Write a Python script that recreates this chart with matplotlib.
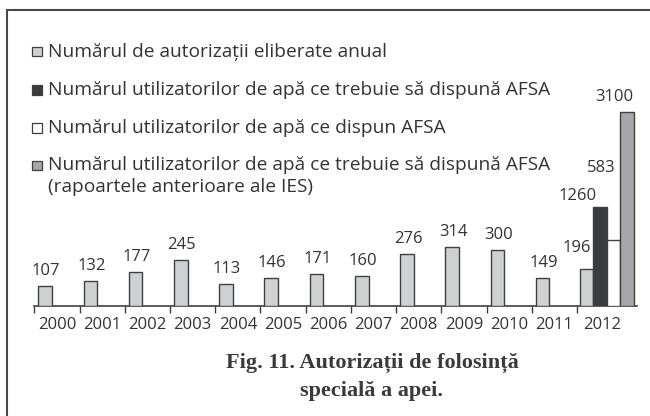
import numpy as np
import matplotlib.pyplot as plt
from matplotlib.patches import Rectangle
from matplotlib.lines import Line2D

# ------------------------------
# Data
# ------------------------------
years = ['2000', '2001', '2002', '2003', '2004', '2005', '2006',
         '2007', '2008', '2009', '2010', '2011', '2012']
permits = [107, 132, 177, 245, 113, 146, 171, 160, 276, 314, 300, 149, 196]
users_required_2012 = 1260
users_having_2012 = 583
users_required_ies_2012 = 3100

series_names = [
    'Numărul de autorizații eliberate anual',
    'Numărul utilizatorilor de apă ce trebuie să dispună AFSA',
    'Numărul utilizatorilor de apă ce dispun AFSA',
    'Numărul utilizatorilor de apă ce trebuie să dispună AFSA\n(rapoartele anterioare ale IES)',
]
title = 'Fig. 11. Autorizații de folosință\nspecială a apei.'

# the original chart is not drawn to a linear scale above ~300,
# so use a piecewise scale (value -> pixel height) to mimic it
SCALE_VALUES = [0, 320, 583, 1260, 3100, 6000]
SCALE_PX = [0, 59.7, 65.5, 98.8, 193.2, 342.0]

# ------------------------------
# Style
# ------------------------------
W, H = 650, 416
FONT = ['Open Sans', 'DejaVu Sans']
TEXT_C = '#333333'
EDGE_C = '#3f3f3f'
colors = ['#cfd0d2', '#3b3c3e', '#ffffff', '#a6a7aa']

plt.rcParams['font.family'] = FONT


def fx(x):
    return x / W


def fy(y):
    return 1 - y / H


def fwd(v):
    return np.interp(v, SCALE_VALUES, SCALE_PX)


def inv(p):
    return np.interp(p, SCALE_PX, SCALE_VALUES)


fig = plt.figure(figsize=(W / 100, H / 100), dpi=100)

# frame around the figure (top and left only visible)
fig.add_artist(Line2D([fx(7.3), fx(W)], [fy(10), fy(10)], color='#4a4a4a', lw=1.5))
fig.add_artist(Line2D([fx(7.3), fx(7.3)], [fy(10), fy(H)], color='#4a4a4a', lw=1.5))

ax_left, ax_right, ax_base, ax_top = 34.3, 636.7, 305.5, 20
ax = fig.add_axes([fx(ax_left), fy(ax_base), (ax_right - ax_left) / W, (ax_base - ax_top) / H])
ax.set_yscale('function', functions=(fwd, inv))

last_w = 1.32
bar_w = 0.30
ax.set_xlim(0, 12 + last_w)
ax.set_ylim(0, inv(ax_base - ax_top))

# yearly permits
x_perm = np.append(np.arange(12) + 0.09, 12.06)
ax.bar(x_perm, permits, width=bar_w, align='edge', color=colors[0],
       edgecolor=EDGE_C, linewidth=1.0, zorder=3)

# 2012 extra bars
x_extra = 12.06 + bar_w * np.arange(1, 4)
extra_vals = [users_required_2012, users_having_2012, users_required_ies_2012]
ax.bar(x_extra, extra_vals, width=bar_w, align='edge', color=colors[1:],
       edgecolor=EDGE_C, linewidth=1.0, zorder=3)

# value labels
lab_kw = dict(textcoords='offset pixels', ha='center', va='center',
              fontsize=12, color=TEXT_C)
for x, v in zip(x_perm[:12], permits[:12]):
    ax.annotate(str(v), (x + bar_w / 2, v), xytext=(1, 15), **lab_kw)
ax.annotate(str(permits[12]), (x_perm[12] + bar_w / 2, permits[12]), xytext=(-10, 21), **lab_kw)
offsets = [(-22, 11), (-12.5, 72), (-12.7, 15)]
for x, v, off in zip(x_extra, extra_vals, offsets):
    ax.annotate(str(v), (x + bar_w / 2, v), xytext=off, **lab_kw)

# axis
for s in ['top', 'right', 'left']:
    ax.spines[s].set_visible(False)
ax.spines['bottom'].set_color(EDGE_C)
ax.spines['bottom'].set_linewidth(1.2)
ax.set_yticks([])
ax.set_xticks(np.arange(13))
ax.set_xticklabels([])
ax.tick_params(axis='x', which='major', length=5, width=1, color=EDGE_C, direction='out')
centers = list(np.arange(12) + 0.5) + [12.55]
ax.set_xticks(centers, minor=True)
ax.set_xticklabels(years, minor=True, fontsize=12, color=TEXT_C)
ax.tick_params(axis='x', which='minor', length=0, pad=8)
ax.patch.set_alpha(0)

# legend, drawn by hand
leg_y = [51.7, 90, 128, 165]
for name, c, y in zip(series_names, colors, leg_y):
    fig.add_artist(Rectangle((fx(32.3), fy(y + 4.5)), 9.4 / W, 9 / H,
                             facecolor=c, edgecolor=EDGE_C, linewidth=0.9,
                             transform=fig.transFigure))
    for k, line in enumerate(name.split('\n')):
        fig.text(fx(48), fy(y + k * 21.5), line, fontsize=13.8, color=TEXT_C,
                 ha='left', va='center')

# caption
for k, line in enumerate(title.split('\n')):
    fig.text(fx(372), fy(368 + k * 28), line, fontsize=16, fontweight='bold',
             family=['Liberation Serif', 'DejaVu Serif'], color='#3a3a3a',
             ha='center', va='baseline')

fig.savefig('out.png', dpi=100)
